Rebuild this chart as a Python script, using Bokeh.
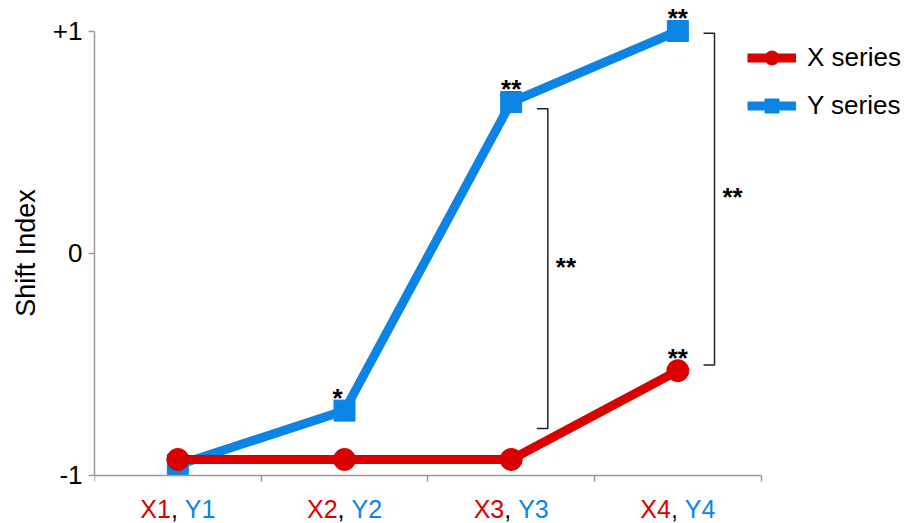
from bokeh.plotting import figure
from bokeh.models import (ColumnDataSource, LabelSet, Legend, LegendItem,
                          FixedTicker, Range1d, Title)
from bokeh.core.properties import value
from bokeh.embed import file_html
from bokeh.resources import INLINE

# ---------------- data ----------------
categories = [1, 2, 3, 4]
x_cat_labels = ["X1", "X2", "X3", "X4"]
y_cat_labels = ["Y1", "Y2", "Y3", "Y4"]
x_series = [-0.93, -0.93, -0.93, -0.53]
y_series = [-0.955, -0.71, 0.68, 1.0]
x_stars = ["", "", "", "**"]
y_stars = ["", "*", "**", "**"]
y_ticks = [-1, 0, 1]
y_tick_labels = ["-1", "0", "+1"]
bracket_cats = [3, 4]
bracket_top = [0.65, 0.99]
bracket_bottom = [-0.79, -0.505]
bracket_marks = ["**", "**"]
y_axis_title = "Shift Index"

# ---------------- style ----------------
FONT = "Liberation Sans"
RED = "#D90000"
BLUE = "#0B84E6"
AXIS_GREY = "#9A9A9A"
FS = "26px"

W, H = 905, 523
LEFT = 94          # frame left (px)
PX_X = 166.67      # px per category
PX_Y = 222.0       # px per y unit
Y1_PX = 30.5       # pixel row of y = +1

x_end = 0.5 + (W - LEFT) / PX_X
y_end = 1 + Y1_PX / PX_Y
y_start = -1 - (H - (Y1_PX + 2 * PX_Y)) / PX_Y

p = figure(width=W, height=H, output_backend="svg", toolbar_location=None,
           x_range=Range1d(0.5, x_end), y_range=Range1d(y_start, y_end),
           min_border_left=LEFT, min_border_right=0, min_border_top=0,
           min_border_bottom=0)
p.xgrid.visible = False
p.ygrid.visible = False
p.outline_line_color = None
p.background_fill_color = "white"

# y axis
ya = p.yaxis[0]
ya.ticker = FixedTicker(ticks=y_ticks)
ya.major_label_overrides = dict(zip(y_ticks, y_tick_labels))
ya.bounds = (min(y_ticks), max(y_ticks))
ya.major_label_text_font = FONT
ya.major_label_text_font_size = FS
ya.major_label_text_color = "black"
ya.major_label_standoff = 6
ya.axis_line_color = AXIS_GREY
ya.axis_line_width = 1.5
ya.major_tick_line_color = AXIS_GREY
ya.major_tick_line_width = 1.5
ya.major_tick_out = 6
ya.major_tick_in = 0
ya.minor_tick_line_color = None

# y axis title, centred on the -1..+1 span of the axis
TITLE_FS = 27
title_len = 4.725 * TITLE_FS
axis_mid = Y1_PX + PX_Y
p.add_layout(Title(text=y_axis_title, align="left", text_font=FONT,
                   text_font_size=f"{TITLE_FS}px", text_font_style="normal",
                   text_color="black", standoff=17,
                   offset=H - (axis_mid + title_len / 2)), "left")

# x axis at y = -1 (category boundaries as ticks, labels drawn separately)
bounds = [c - 0.5 for c in categories] + [categories[-1] + 0.5]
xa = p.xaxis[0]
xa.fixed_location = min(y_ticks)
xa.ticker = FixedTicker(ticks=bounds)
xa.major_label_overrides = {b: "" for b in bounds}
xa.major_label_text_font_size = "1px"
xa.major_label_standoff = 0
xa.bounds = (bounds[0], bounds[-1])
xa.axis_line_color = AXIS_GREY
xa.axis_line_width = 1.5
xa.major_tick_line_color = AXIS_GREY
xa.major_tick_line_width = 1.5
xa.major_tick_out = 6
xa.major_tick_in = 0
xa.minor_tick_line_color = None

src = ColumnDataSource(dict(cat=categories, xs=x_series, ys=y_series,
                            xstar=x_stars, ystar=y_stars,
                            xl=x_cat_labels, yl=y_cat_labels,
                            comma=[","] * len(categories),
                            ystar_dx=[0, -7, 0, 0]))

lb = p.line("cat", "ys", source=src, line_color=BLUE, line_width=9)
sb = p.scatter("cat", "ys", source=src, marker="square", size=21,
               fill_color=BLUE, line_color=BLUE)
lr = p.line("cat", "xs", source=src, line_color=RED, line_width=9)
sr = p.scatter("cat", "xs", source=src, marker="circle", size=22,
               fill_color=RED, line_color=RED)

# significance stars above points
for col, ycol, dx in (("ystar", "ys", "ystar_dx"), ("xstar", "xs", None)):
    kw = dict(x_offset=dx) if dx else {}
    p.add_layout(LabelSet(x="cat", y=ycol, text=col, source=src,
                          text_align="center", text_baseline="alphabetic",
                          y_offset=4, text_font=value(FONT),
                          text_font_size=value("26px"),
                          text_font_style="bold", text_color="black", **kw))

# brackets
bsrc = ColumnDataSource(dict(
    xs=[[c + 0.154, c + 0.22, c + 0.22, c + 0.154] for c in bracket_cats],
    ys=[[t, t, b, b] for t, b in zip(bracket_top, bracket_bottom)],
))
p.multi_line("xs", "ys", source=bsrc, line_color="#222222", line_width=1.5)
bl = ColumnDataSource(dict(x=[c + 0.22 for c in bracket_cats],
                           y=[(t + b) / 2 for t, b in zip(bracket_top, bracket_bottom)],
                           t=bracket_marks))
p.add_layout(LabelSet(x="x", y="y", text="t", source=bl, x_offset=8, y_offset=-7,
                      text_align="left", text_baseline="alphabetic",
                      text_font=value(FONT), text_font_size=value("26px"),
                      text_font_style="bold", text_color="black"))

# category labels: red X part, black comma, blue Y part
CAT_FS = 25
half = 0.278 * CAT_FS
common = dict(y=min(y_ticks), source=src, y_offset=-42.5,
              text_baseline="alphabetic", text_font=value(FONT),
              text_font_size=value(f"{CAT_FS}px"))
p.add_layout(LabelSet(x="cat", text="xl", text_align="right", x_offset=-half,
                      text_color=RED, **common))
p.add_layout(LabelSet(x="cat", text="comma", text_align="left", x_offset=-half,
                      text_color="black", **common))
p.add_layout(LabelSet(x="cat", text="yl", text_align="left", x_offset=half,
                      text_color=BLUE, **common))

# legend (position given from the frame's bottom-left corner)
leg_top_item_center = 57
leg_h = 35 * 2 + 13
legend = Legend(items=[LegendItem(label="X series", renderers=[lr, sr]),
                       LegendItem(label="Y series", renderers=[lb, sb])],
                location=(747 - LEFT, H - (leg_top_item_center - 17.5 + leg_h)),
                padding=0, margin=0, spacing=13,
                glyph_width=49, glyph_height=35, label_height=35,
                label_standoff=11, label_text_font=FONT,
                label_text_font_size=FS, label_text_color="black",
                border_line_color=None, background_fill_alpha=0)
p.add_layout(legend)

open("out.html", "w").write(file_html(p, INLINE))
